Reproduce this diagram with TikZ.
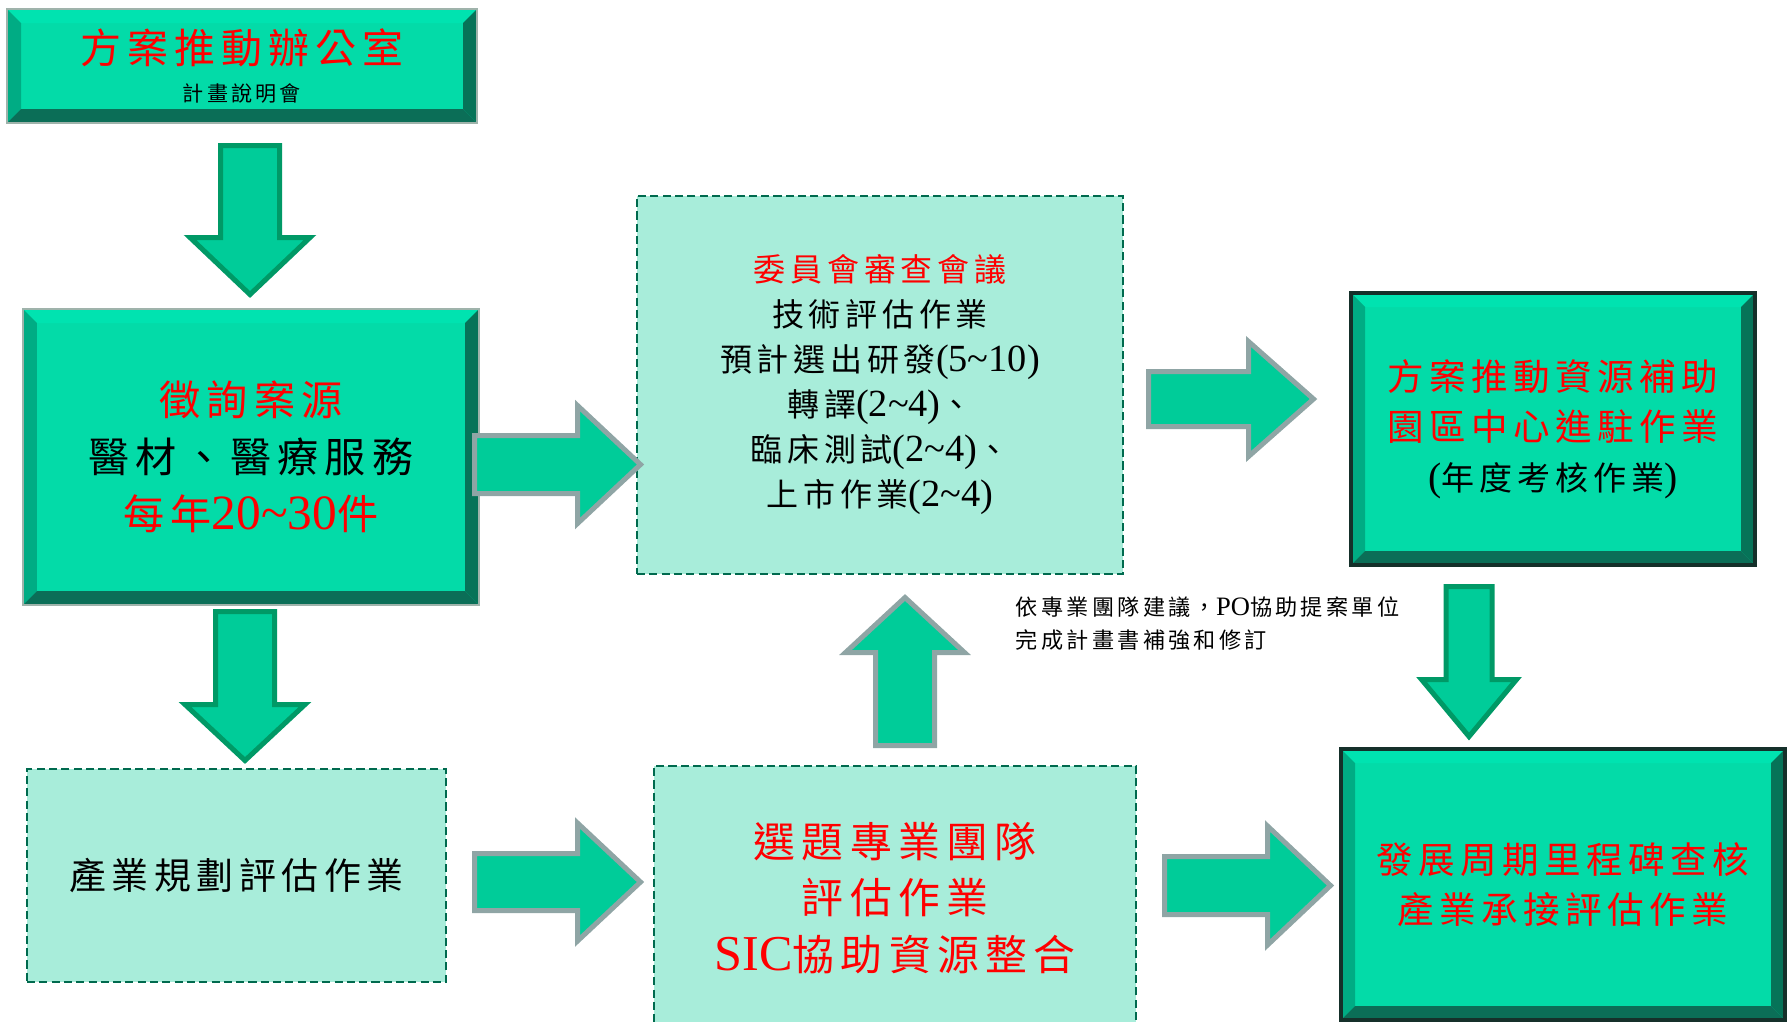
\documentclass[tikz,border=0pt]{standalone}
\usepackage{fontspec}
\setmainfont{Noto Sans CJK TC}[LetterSpace=15]
\newfontfamily\romfont{Liberation Serif}[Scale=1.2]
\usetikzlibrary{calc}

\definecolor{bvface}{HTML}{03DBA8}
\definecolor{bvtop}{HTML}{00E3B0}
\definecolor{bvleft}{HTML}{00AC84}
\definecolor{bvright}{HTML}{067358}
\definecolor{bvbottom}{HTML}{0B6E57}
\definecolor{bvdark}{HTML}{15302A}
\definecolor{bvlight}{HTML}{9FB3AB}
\definecolor{dashfill}{HTML}{A8EDDA}
\definecolor{dashline}{HTML}{006A4E}
\definecolor{arrfill}{HTML}{00CC99}
\definecolor{arrgreen}{HTML}{009966}
\definecolor{arrgrey}{HTML}{8FA5A5}
\definecolor{txtred}{HTML}{FF0000}

\newcommand{\bvw}{0.14cm}

\tikzset{
	bevelbox/.style={rectangle, draw=#1, fill=bvface, inner sep=0pt, align=center,
		path picture={
			\path (path picture bounding box.south west) coordinate (SW)
			      (path picture bounding box.north east) coordinate (NE);
			\fill[bvtop]    (SW |- NE) -- (NE) -- ($(NE)+(-\bvw,-\bvw)$) -- ($(SW |- NE)+(\bvw,-\bvw)$) -- cycle;
			\fill[bvleft]   (SW |- NE) -- ($(SW |- NE)+(\bvw,-\bvw)$) -- ($(SW)+(\bvw,\bvw)$) -- (SW) -- cycle;
			\fill[bvright]  (NE) -- (NE |- SW) -- ($(NE |- SW)+(-\bvw,\bvw)$) -- ($(NE)+(-\bvw,-\bvw)$) -- cycle;
			\fill[bvbottom] (SW) -- ($(SW)+(\bvw,\bvw)$) -- ($(NE |- SW)+(-\bvw,\bvw)$) -- (NE |- SW) -- cycle;
		}},
	planbox/.style={rectangle, draw=dashline, fill=dashfill, line width=0.8pt,
		dash pattern=on 2.3pt off 1.2pt, inner sep=0pt, align=center},
	greenarrow/.style={fill=arrfill, draw=arrgreen, line width=0.05cm},
	greyarrow/.style={fill=arrfill, draw=arrgrey, line width=0.05cm},
	pics/blockarrow/.style args={#1/#2/#3/#4}{code={
		\path[pic actions] (0,{-#2/2}) -- ({#1-#4},{-#2/2}) -- ({#1-#4},{-#3/2}) -- (#1,0)
			-- ({#1-#4},{#3/2}) -- ({#1-#4},{#2/2}) -- (0,{#2/2}) -- cycle;
	}},
}

\begin{document}
\begin{tikzpicture}
			\useasboundingbox (0,0) rectangle (17.87,-10.21);

			\node[bevelbox=bvlight, minimum width=4.70cm, minimum height=1.14cm, font=\fontsize{11.65pt}{11pt}\selectfont] (office) at (2.42,-0.66)
				{\textcolor{txtred}{方案推動辦公室}\\{\fontsize{6pt}{7pt}\selectfont 計畫說明會}};
			\node[bevelbox=bvlight, minimum width=4.56cm, minimum height=2.96cm, font=\fontsize{11.7pt}{16.2pt}\selectfont] (inquiry) at (2.51,-4.57)
				{\textcolor{txtred}{徵詢案源}\\醫材、醫療服務\\\textcolor{txtred}{每年{\romfont 20\textasciitilde30}件}};
			\node[planbox, minimum width=4.19cm, minimum height=2.13cm, font=\fontsize{10.5pt}{12pt}\selectfont] (planning) at (2.365,-8.755)
				{產業規劃評估作業};
			\node[planbox, minimum width=4.86cm, minimum height=3.78cm, font=\fontsize{9.1pt}{12.8pt}\selectfont] (review) at (8.80,-3.85)
				{\textcolor{txtred}{委員會審查會議}\\技術評估作業\\預計選出研發{\romfont (5\textasciitilde10)}\\轉譯{\romfont (2\textasciitilde4)}、\\臨床測試{\romfont (2\textasciitilde4)}、\\上市作業{\romfont (2\textasciitilde4)}};
			\node[planbox, minimum width=4.82cm, minimum height=2.64cm, text=txtred, font=\fontsize{11.9pt}{16.1pt}\selectfont] (team) at (8.95,-8.98)
				{選題專業團隊\\評估作業\\{\romfont SIC}協助資源整合};
			\node[bevelbox=bvdark, line width=1.1pt, minimum width=4.04cm, minimum height=2.72cm, font=\fontsize{10.4pt}{14.3pt}\selectfont] (subsidy) at (15.53,-4.29)
				{\textcolor{txtred}{方案推動資源補助}\\\textcolor{txtred}{園區中心進駐作業}\\{\fontsize{9.4pt}{11pt}\selectfont{\romfont (}年度考核作業{\romfont )}}};
			\node[bevelbox=bvdark, line width=1.1pt, minimum width=4.44cm, minimum height=2.71cm, text=txtred, font=\fontsize{10.4pt}{14.2pt}\selectfont] (milestone) at (15.63,-8.845)
				{發展周期里程碑查核\\產業承接評估作業};
			\node[anchor=west, inner sep=0pt, align=left, font=\fontsize{6.3pt}{9.4pt}\selectfont] (note) at (10.15,-6.235)
				{依專業團隊建議，{\romfont PO}協助提案單位\\完成計畫書補強和修訂};

			\pic[greenarrow, rotate=-90] (down1) at (2.50,-1.455)  {blockarrow=1.49/0.59/1.20/0.57};
			\pic[greenarrow, rotate=-90] (down2) at (2.45,-6.115)  {blockarrow=1.49/0.59/1.20/0.56};
			\pic[greenarrow, rotate=-90] (down3) at (14.69,-5.865) {blockarrow=1.50/0.46/0.95/0.57};
			\pic[greyarrow, rotate=90]   (up1)   at (9.05,-7.455)  {blockarrow=1.48/0.59/1.19/0.55};
			\pic[greyarrow] (rightA) at (4.745,-4.645)  {blockarrow=1.66/0.58/1.18/0.63};
			\pic[greyarrow] (rightB) at (11.485,-3.99)  {blockarrow=1.65/0.55/1.15/0.65};
			\pic[greyarrow] (rightC) at (4.745,-8.82)   {blockarrow=1.66/0.57/1.18/0.63};
			\pic[greyarrow] (rightD) at (11.645,-8.855) {blockarrow=1.66/0.58/1.19/0.63};

		\end{tikzpicture}
\end{document}
